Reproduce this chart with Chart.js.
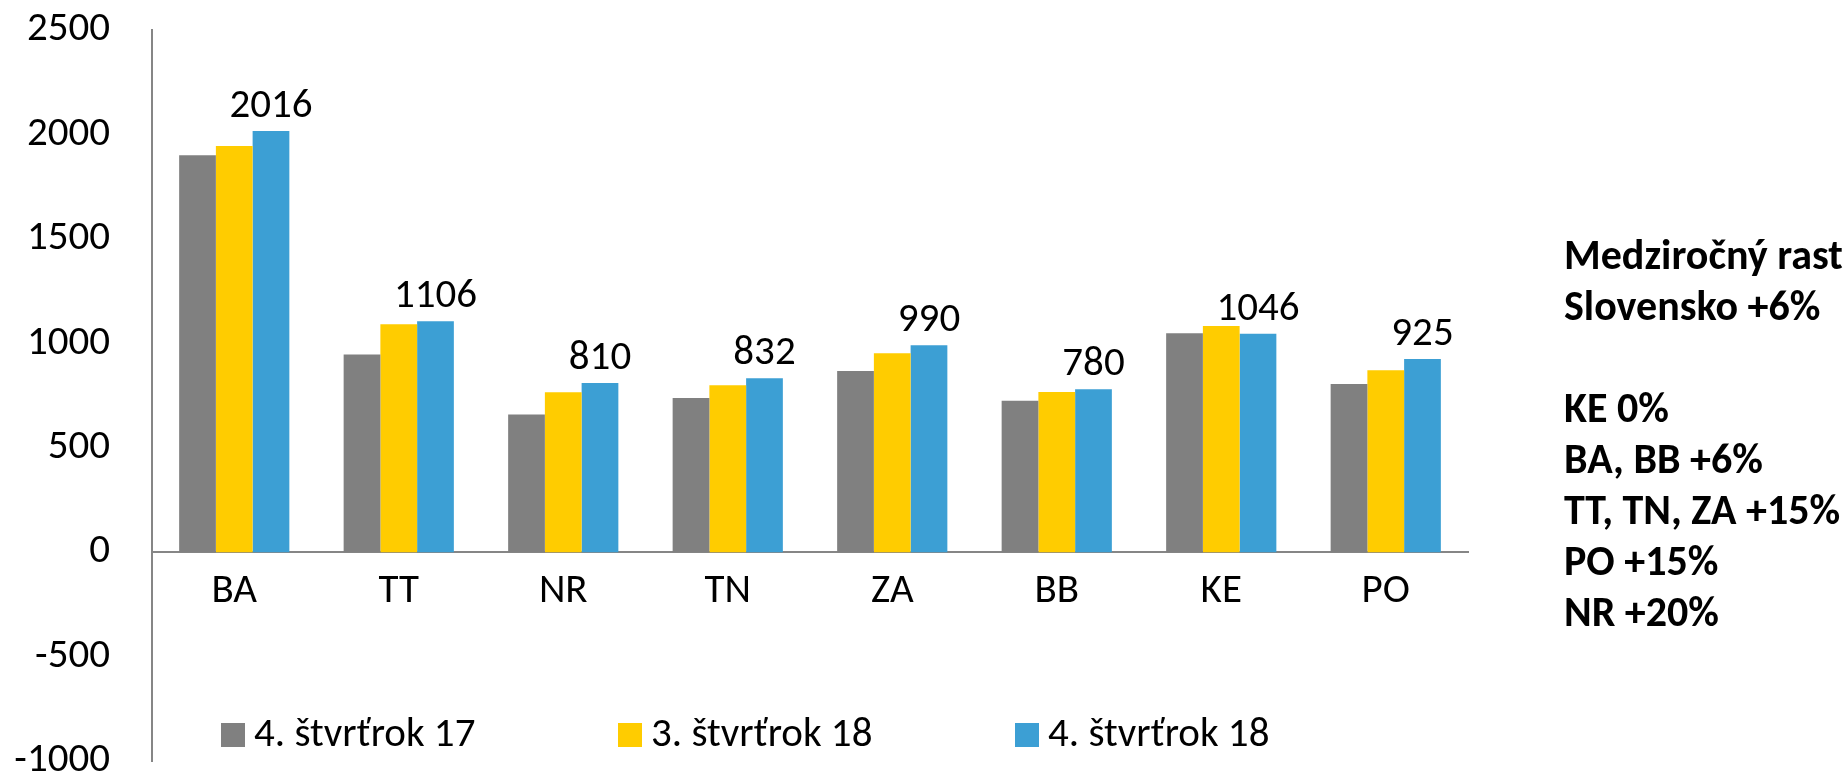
<!DOCTYPE html>
<html>
<head>
<meta charset="utf-8">
<script src="https://cdn.jsdelivr.net/npm/chart.js@4/dist/chart.umd.min.js"></script>
<style>
    html, body { margin: 0; padding: 0; background: #fff; }
    #wrap { position: relative; width: 1848px; height: 775px; }
    #note {
        position: absolute; left: 1564px; top: 229px;
        font: bold 42px Carlito, Calibri, "Liberation Sans", sans-serif;
        line-height: 51px; color: #000; white-space: nowrap;
    }
</style>
</head>
<body>
<div id="wrap">
    <canvas id="chart" width="1848" height="775"></canvas>
    <div id="note">
        Medziročný rast<br>Slovensko +6%<br><br>
        KE 0%<br>BA, BB +6%<br>TT, TN, ZA +15%<br>PO +15%<br>NR +20%
    </div>
</div>
<script>
// dáta
const categories = ['BA', 'TT', 'NR', 'TN', 'ZA', 'BB', 'KE', 'PO'];
const seriesNames = ['4. štvrťrok 17', '3. štvrťrok 18', '4. štvrťrok 18'];
const q4_17 = [1900, 946, 659, 738, 867, 725, 1048, 805];
const q3_18 = [1944, 1091, 766, 799, 952, 767, 1083, 871];
const q4_18 = [2016, 1106, 810, 832, 990, 780, 1046, 925];
const yTicks = [-1000, -500, 0, 500, 1000, 1500, 2000, 2500];

const colors = ['#808080', '#FFCC00', '#3C9FD4'];
const FONT = 'Carlito, Calibri, "Liberation Sans", sans-serif';

// popisky nad modrými stĺpcami
const valueLabels = {
    id: 'valueLabels',
    afterDatasetsDraw(chart) {
        const ctx = chart.ctx;
        const meta = chart.getDatasetMeta(2);
        ctx.save();
        ctx.font = '41px ' + FONT;
        ctx.fillStyle = '#000';
        ctx.textAlign = 'center';
        ctx.textBaseline = 'alphabetic';
        meta.data.forEach((bar, i) => {
            ctx.fillText(String(chart.data.datasets[2].data[i]), bar.x, bar.y - 14);
        });
        ctx.restore();
    }
};

// legenda vnútri grafu
const innerLegend = {
    id: 'innerLegend',
    afterDraw(chart) {
        const ctx = chart.ctx;
        ctx.save();
        ctx.font = '41px ' + FONT;
        ctx.textBaseline = 'middle';
        ctx.textAlign = 'left';
        chart.data.datasets.forEach((ds, i) => {
            const x = 221 + i * 397;
            const y = 735;
            ctx.fillStyle = ds.backgroundColor;
            ctx.fillRect(x, y - 12, 24, 24);
            ctx.fillStyle = '#000';
            ctx.fillText(ds.label, x + 33, y + 1);
        });
        ctx.restore();
    }
};

const seriesValues = [q4_17, q3_18, q4_18];

new Chart(document.getElementById('chart'), {
    type: 'bar',
    data: {
        labels: categories,
        datasets: seriesValues.map((vals, i) => ({
            label: seriesNames[i],
            data: vals,
            backgroundColor: colors[i],
            categoryPercentage: 0.67,
            barPercentage: 1.0
        }))
    },
    options: {
        responsive: false,
        animation: false,
        layout: { padding: { top: 30, bottom: 14, right: 380, left: 0 } },
        plugins: {
            legend: { display: false },
            tooltip: { enabled: false }
        },
        scales: {
            x: {
                position: { y: 0 },
                afterFit(scale) { scale.height = 0; },
                grid: { display: false, drawTicks: false },
                border: { display: true, color: '#868686', width: 2 },
                ticks: {
                    color: '#000',
                    font: { family: FONT, size: 41 },
                    padding: 15
                }
            },
            y: {
                min: -1000,
                max: 2500,
                afterFit(scale) {
                    scale.width = 152;
                    scale.paddingTop = 0;
                    scale.paddingBottom = 0;
                },
                afterBuildTicks(scale) { scale.ticks = yTicks.map(v => ({ value: v })); },
                grid: { display: false, drawTicks: false },
                border: { display: true, color: '#868686', width: 2 },
                ticks: {
                    color: '#000',
                    font: { family: FONT, size: 41 },
                    padding: 42,
                    callback: v => String(v)
                }
            }
        }
    },
    plugins: [valueLabels, innerLegend]
});
</script>
</body>
</html>
